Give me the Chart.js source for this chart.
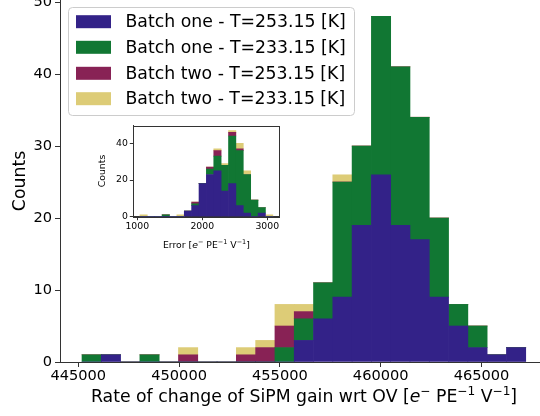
<!DOCTYPE html>
<html>
<head>
<meta charset="utf-8">
<script src="https://cdn.jsdelivr.net/npm/chart.js@4.4.1/dist/chart.umd.min.js"></script>
<style>
html, body { margin: 0; padding: 0; background: #fff; }
#wrap { position: relative; width: 540px; height: 416px; overflow: hidden; }
#main { position: absolute; left: 0; top: 0; }
#inset { position: absolute; left: 90px; top: 118px; }
</style>
</head>
<body>
<div id="wrap">
  <canvas id="main" width="540" height="416"></canvas>
  <canvas id="inset" width="200" height="140"></canvas>
</div>
<script>
// Series names and colours
const seriesNames = [
    'Batch one - T=253.15 [K]',
    'Batch one - T=233.15 [K]',
    'Batch two - T=253.15 [K]',
    'Batch two - T=233.15 [K]'
];
const seriesColors = ['#332288', '#117733', '#882255', '#ddcc77'];

// Main histogram: bin centres and counts per series
const binCenters = [445662, 446619, 447576, 448533, 449490, 450447, 451404, 452361,
    453318, 454275, 455232, 456189, 457146, 458103, 459060, 460017, 460974, 461931,
    462888, 463845, 464802, 465759, 466716];
const batchOneWarm = [0, 1, 0, 0, 0, 0, 0, 0, 0, 0, 0, 3, 6, 9, 19, 26, 19, 17, 9, 5, 2, 1, 2];
const batchOneCold = [1, 0, 0, 1, 0, 0, 0, 0, 0, 0, 2, 3, 5, 16, 11, 22, 22, 17, 11, 3, 3, 0, 0];
const batchTwoWarm = [0, 0, 0, 0, 0, 1, 0, 0, 1, 2, 3, 1, 0, 0, 0, 0, 0, 0, 0, 0, 0, 0, 0];
const batchTwoCold = [0, 0, 0, 0, 0, 1, 0, 0, 1, 1, 3, 1, 0, 1, 0, 0, 0, 0, 0, 0, 0, 0, 0];
const xTicks = [445000, 450000, 455000, 460000, 465000];
const yTicks = [0, 10, 20, 30, 40, 50];

// Inset histogram (error)
const errCenters = [1098, 1211, 1325, 1439, 1552, 1666, 1780, 1893, 2007, 2120, 2234,
    2348, 2461, 2575, 2689, 2802, 2916, 3030];
const errOneWarm = [0, 0, 0, 0, 0, 0, 3, 6, 18, 23, 25, 14, 18, 6, 2, 0, 2, 0];
const errOneCold = [0, 0, 0, 1, 0, 0, 0, 1, 0, 3, 8, 14, 26, 30, 21, 9, 3, 0];
const errTwoWarm = [0, 0, 0, 0, 0, 0, 0, 1, 0, 1, 3, 0, 2, 1, 0, 0, 0, 0];
const errTwoCold = [1, 0, 0, 0, 0, 1, 0, 0, 0, 0, 1, 1, 1, 3, 2, 0, 0, 1];
const errXTicks = [1000, 2000, 3000];
const errYTicks = [0, 20, 40];

const FONT = '"DejaVu Sans", sans-serif';
const AXIS = '#333';
Chart.defaults.font.family = FONT;
Chart.defaults.color = '#000';

function makeDatasets(centers, seriesList) {
    return seriesList.map((vals, i) => ({
        label: seriesNames[i],
        data: centers.map((c, j) => ({ x: c, y: vals[j] })),
        backgroundColor: seriesColors[i],
        borderWidth: 0,
        barPercentage: 1,
        categoryPercentage: 1
    }));
}

// Draw a label with mathtext-like pieces: n normal, i italic, s superscript
function drawMath(ctx, parts, cx, y, size) {
    const fontFor = p => (p[1] === 'i' ? 'italic ' : '') + (p[1] === 's' ? size * 0.7 : size) + 'px ' + FONT;
    let total = 0;
    parts.forEach(p => { ctx.font = fontFor(p); total += ctx.measureText(p[0]).width; });
    let x = cx - total / 2;
    ctx.textAlign = 'left';
    ctx.textBaseline = 'alphabetic';
    parts.forEach(p => {
        ctx.font = fontFor(p);
        ctx.fillText(p[0], x, p[1] === 's' ? y - size * 0.42 : y);
        x += ctx.measureText(p[0]).width;
    });
}

const unitParts = [['e', 'i'], ['\u2212', 's'], [' PE', 'n'], ['\u22121', 's'], [' V', 'n'], ['\u22121', 's'], [']', 'n']];

const mainDecor = {
    id: 'mainDecor',
    afterDraw(chart) {
        const ctx = chart.ctx;
        ctx.save();
        ctx.fillStyle = '#000';
        // x axis title
        drawMath(ctx, [['Rate of change of SiPM gain wrt OV [', 'n']].concat(unitParts), 304, 402, 17.3);
        // y axis title
        ctx.translate(25, 181);
        ctx.rotate(-Math.PI / 2);
        ctx.font = '17.3px ' + FONT;
        ctx.textAlign = 'center';
        ctx.textBaseline = 'alphabetic';
        ctx.fillText('Counts', 0, 0);
        ctx.restore();

        // legend box
        ctx.save();
        ctx.beginPath();
        ctx.roundRect(68.5, 7.5, 286, 108, 4);
        ctx.fillStyle = 'rgba(255,255,255,0.8)';
        ctx.fill();
        ctx.strokeStyle = '#cccccc';
        ctx.lineWidth = 1;
        ctx.stroke();
        const rows = [21.7, 47.3, 73.3, 98.7];
        ctx.font = '17.3px ' + FONT;
        ctx.textAlign = 'left';
        ctx.textBaseline = 'middle';
        seriesNames.forEach((name, i) => {
            ctx.fillStyle = seriesColors[i];
            ctx.fillRect(76, rows[i] - 6.5, 35, 13);
            ctx.fillStyle = '#000';
            ctx.fillText(name, 125.5, rows[i] + 1);
        });
        ctx.restore();
    }
};

new Chart(document.getElementById('main'), {
    type: 'bar',
    data: {
        datasets: makeDatasets(binCenters, [batchOneWarm, batchOneCold, batchTwoWarm, batchTwoCold])
    },
    options: {
        responsive: false,
        animation: false,
        layout: { padding: 0 },
        plugins: { legend: { display: false }, tooltip: { enabled: false } },
        scales: {
            x: {
                type: 'linear',
                stacked: true,
                offset: false,
                min: 444092,
                max: 467902,
                afterBuildTicks: s => { s.ticks = xTicks.map(v => ({ value: v })); },
                afterFit: s => { s.height = 54; s.paddingLeft = 0; s.paddingRight = 0; },
                ticks: { font: { size: 14.6 }, color: '#000', padding: 0, maxRotation: 0, callback: v => String(v) },
                grid: { offset: false, drawOnChartArea: false, drawTicks: true, tickLength: 5, color: AXIS },
                border: { display: true, color: AXIS, width: 1 }
            },
            y: {
                stacked: true,
                min: 0,
                max: 50.28,
                afterBuildTicks: s => { s.ticks = yTicks.map(v => ({ value: v })); },
                afterFit: s => { s.width = 60; s.paddingTop = 0; s.paddingBottom = 0; },
                ticks: { font: { size: 14.6 }, color: '#000', padding: 3, callback: v => String(v) },
                grid: { drawOnChartArea: false, drawTicks: true, tickLength: 5, color: AXIS },
                border: { display: true, color: AXIS, width: 1 }
            }
        }
    },
    plugins: [mainDecor]
});

const insetDecor = {
    id: 'insetDecor',
    afterDraw(chart) {
        const ctx = chart.ctx;
        const a = chart.chartArea;
        ctx.save();
        ctx.strokeStyle = AXIS;
        ctx.lineWidth = 1;
        ctx.strokeRect(Math.round(a.left) + 0.5, Math.round(a.top) + 0.5,
            Math.round(a.right - a.left), Math.round(a.bottom - a.top));
        ctx.fillStyle = '#000';
        drawMath(ctx, [['Error [', 'n']].concat(unitParts), 116.4, 130, 9.3);
        ctx.translate(15, 53);
        ctx.rotate(-Math.PI / 2);
        ctx.font = '9.3px ' + FONT;
        ctx.textAlign = 'center';
        ctx.fillText('Counts', 0, 0);
        ctx.restore();
    }
};

new Chart(document.getElementById('inset'), {
    type: 'bar',
    data: {
        datasets: makeDatasets(errCenters, [errOneWarm, errOneCold, errTwoWarm, errTwoCold])
    },
    options: {
        responsive: false,
        animation: false,
        layout: { padding: { top: 7.7, right: 10.5, left: 0, bottom: 0 } },
        plugins: { legend: { display: false }, tooltip: { enabled: false } },
        scales: {
            x: {
                type: 'linear',
                stacked: true,
                offset: false,
                min: 939,
                max: 3189,
                afterBuildTicks: s => { s.ticks = errXTicks.map(v => ({ value: v })); },
                afterFit: s => { s.height = 41.3; s.paddingLeft = 0; s.paddingRight = 0; },
                ticks: { font: { size: 9.3 }, color: '#000', padding: 1, maxRotation: 0, callback: v => String(v) },
                grid: { offset: false, drawOnChartArea: false, drawTicks: true, tickLength: 3.5, color: AXIS },
                border: { display: true, color: AXIS, width: 1 }
            },
            y: {
                stacked: true,
                min: 0,
                max: 49.6,
                afterBuildTicks: s => { s.ticks = errYTicks.map(v => ({ value: v })); },
                afterFit: s => { s.width = 43.3; s.paddingTop = 0; s.paddingBottom = 0; },
                ticks: { font: { size: 9.3 }, color: '#000', padding: 2, callback: v => String(v) },
                grid: { drawOnChartArea: false, drawTicks: true, tickLength: 3.5, color: AXIS },
                border: { display: true, color: AXIS, width: 1 }
            }
        }
    },
    plugins: [insetDecor]
});
</script>
</body>
</html>
